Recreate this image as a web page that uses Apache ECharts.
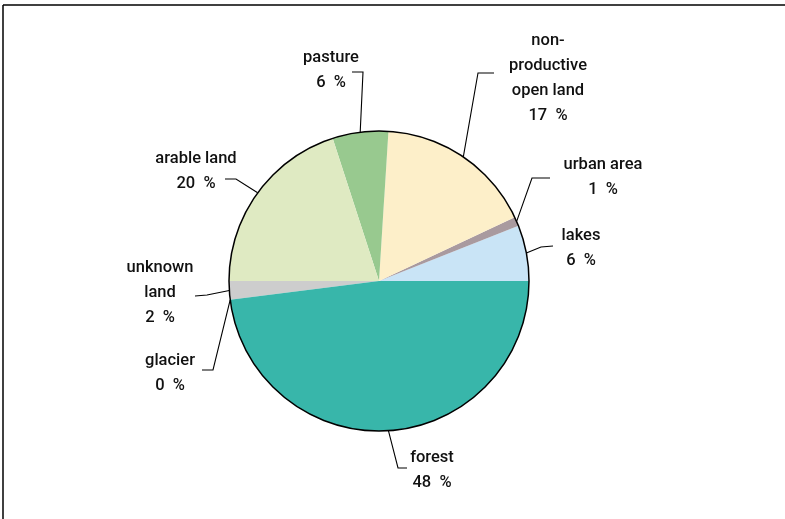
<!DOCTYPE html>
<html>
<head>
<meta charset="utf-8">
<script src="https://cdn.jsdelivr.net/npm/echarts@6/dist/echarts.min.js"></script>
<style>
  html, body { margin: 0; padding: 0; background: #fff; }
  #chart { width: 785px; height: 519px; }
</style>
</head>
<body>
<div id="chart"></div>
<script>
// Land use shares (percent), listed counter-clockwise from 3 o'clock
const categories = ['lakes', 'urban area', 'non-\nproductive\nopen land', 'pasture',
                    'arable land', 'unknown\nland', 'glacier', 'forest'];
const shares = [6, 1, 17, 6, 20, 2, 0, 48];
const sliceColors = ['#c9e4f6', '#a99a9f', '#fdefc9', '#98c98f',
                     '#dfeac2', '#cdcdcd', '#ffffff', '#38b6aa'];

// Where each label sits and where its leader line bends / ends
const labelSpots = [
  { x: 581, y: 248, bend: [541, 247], end: [553, 246] },
  { x: 603, y: 177, bend: [532, 178], end: [550, 178] },
  { x: 548, y: 78,  bend: [478, 73],  end: [494, 73] },
  { x: 331, y: 70,  bend: [363, 72],  end: [352, 72] },
  { x: 196, y: 171, bend: [236, 179], end: [225, 179] },
  { x: 160, y: 293, bend: [207, 295], end: [195, 296] },
  { x: 170, y: 373, bend: [213, 370], end: [202, 370] },
  { x: 432, y: 470, bend: [398, 468], end: [407, 468] }
];

const FONT = "Roboto, 'Noto Sans', sans-serif";
const chart = echarts.init(document.getElementById('chart'));

chart.setOption({
  animation: false,
  backgroundColor: '#fff',
  graphic: [
    { type: 'line', shape: { x1: 3, y1: 5, x2: 785, y2: 5 },
      style: { stroke: '#000', lineWidth: 1.5 } },
    { type: 'line', shape: { x1: 3, y1: 5, x2: 3, y2: 519 },
      style: { stroke: '#000', lineWidth: 1.5 } }
  ],
  series: [
    {
      type: 'pie',
      center: [379, 281],
      radius: 150,
      startAngle: 0,
      clockwise: false,
      avoidLabelOverlap: false,
      emphasis: { disabled: true },
      itemStyle: { borderWidth: 0 },
      label: {
        show: true,
        formatter: '{b}\n{c}  %',
        fontFamily: FONT,
        fontSize: 16.5,
        fontWeight: 500,
        lineHeight: 25,
        color: '#111'
      },
      labelLine: {
        show: true,
        length: 10,
        length2: 10,
        lineStyle: { color: '#000', width: 1.1 }
      },
      labelLayout: function (params) {
        const spot = labelSpots[params.dataIndex];
        const start = params.labelLinePoints ? params.labelLinePoints[0] : spot.bend;
        return {
          x: spot.x,
          y: spot.y,
          align: 'center',
          verticalAlign: 'middle',
          labelLinePoints: [start, spot.bend, spot.end]
        };
      },
      data: categories.map((name, i) => ({
        name: name,
        value: shares[i],
        itemStyle: { color: sliceColors[i] }
      }))
    },
    {
      // outline of the whole disc
      type: 'pie',
      center: [379, 281],
      radius: 150,
      silent: true,
      label: { show: false },
      labelLine: { show: false },
      itemStyle: { color: 'none', borderColor: '#000', borderWidth: 1.5 },
      data: [{ name: 'outline', value: 1 }]
    }
  ]
});
</script>
</body>
</html>
